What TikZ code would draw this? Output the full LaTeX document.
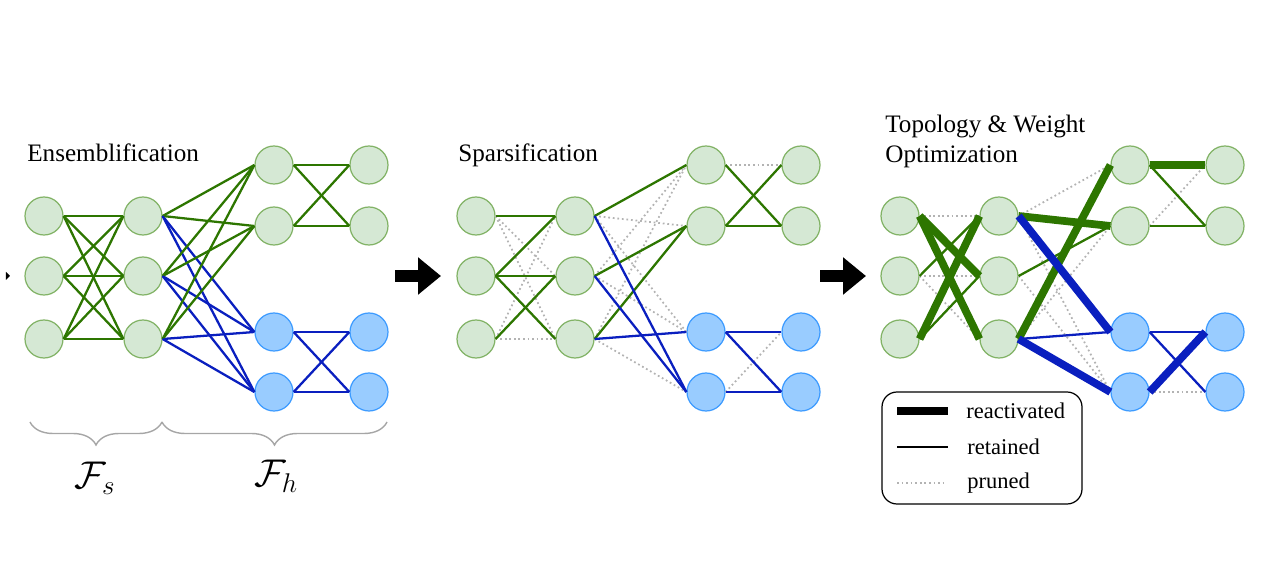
\RequirePackage{fix-cm}
\documentclass[tikz,border=0pt]{standalone}
\usepackage{fontspec}
\setmainfont{Liberation Serif}
\usetikzlibrary{arrows.meta,positioning,calc,decorations.pathreplacing}
\definecolor{nngreen}{HTML}{2D7600}
\definecolor{nnblue}{HTML}{0A1FBF}
\definecolor{nngfill}{HTML}{D5E8D4}
\definecolor{nngline}{HTML}{82B366}
\definecolor{nnbfill}{HTML}{99CCFF}
\definecolor{nnbline}{HTML}{3D9BFF}
\definecolor{nnprune}{HTML}{B3B3B3}

\begin{document}
\begin{tikzpicture}[
  gunit/.style={circle, draw=nngline, fill=nngfill, line width=0.7pt,
                minimum size=0.76cm, inner sep=0pt},
  bunit/.style={circle, draw=nnbline, fill=nnbfill, line width=0.7pt,
                minimum size=0.76cm, inner sep=0pt},
  gedge/.style={nngreen, line width=1.3pt},
  bedge/.style={nnblue, line width=1.3pt},
  gthick/.style={nngreen, line width=4.4pt},
  bthick/.style={nnblue, line width=4.4pt},
  pruned/.style={nnprune, line width=1pt, dash pattern=on 1pt off 1.6pt},
  ttl/.style={font=\fontsize{14.3}{17}\selectfont, inner sep=0pt, anchor=base west},
  lgd/.style={font=\fontsize{12.8}{15}\selectfont, inner sep=0pt},
  grplbl/.style={font=\fontsize{22}{24}\selectfont},
  stage/.style={line width=0.24cm, -{Triangle[length=0.46cm, width=0.72cm]}},
  grp/.style={decorate, decoration={brace, mirror, amplitude=0.46cm},
              draw=black!35, line width=0.8pt},
]
\useasboundingbox (0,0) rectangle (25.4,11.4);

%% ---- units of the three networks ----
% a: input, b: shared layer, c/d: green/blue heads, e/f: their outputs
\foreach \p/\dx in {p1/0, p2/8.64, p3/17.12} {
  \node[gunit] (\p a1) at (0.88+\dx, 7.08) {};
  \node[gunit] (\p a2) at (0.88+\dx, 5.88) {};
  \node[gunit] (\p a3) at (0.88+\dx, 4.62) {};
  \node[gunit] (\p b1) at (2.86+\dx, 7.08) {};
  \node[gunit] (\p b2) at (2.86+\dx, 5.88) {};
  \node[gunit] (\p b3) at (2.86+\dx, 4.62) {};
  \node[gunit] (\p c1) at (5.48+\dx, 8.10) {};
  \node[gunit] (\p c2) at (5.48+\dx, 6.88) {};
  \node[bunit] (\p d1) at (5.48+\dx, 4.76) {};
  \node[bunit] (\p d2) at (5.48+\dx, 3.56) {};
  \node[gunit] (\p e1) at (7.38+\dx, 8.10) {};
  \node[gunit] (\p e2) at (7.38+\dx, 6.88) {};
  \node[bunit] (\p f1) at (7.38+\dx, 4.76) {};
  \node[bunit] (\p f2) at (7.38+\dx, 3.56) {};
}

%% ---- titles ----
\node[ttl] (t1) at (0.54, 8.16) {Ensemblification};
\node[ttl] (t2) at (9.16, 8.16) {Sparsification};
\node[ttl] (t3) at (17.70, 8.74) {Topology \& Weight};
\node[ttl] (t4) at (17.70, 8.14) {Optimization};

%% ---- panel 1: dense ensemble ----
\foreach \i in {1,2,3} {
  \foreach \j in {1,2,3}
    \draw[gedge] (p1a\i.east) -- (p1b\j.west);
  \foreach \j in {1,2} {
    \draw[gedge] (p1b\i.east) -- (p1c\j.west);
    \draw[bedge] (p1b\i.east) -- (p1d\j.west);
  }
}
\foreach \i in {1,2}
  \foreach \j in {1,2} {
    \draw[gedge] (p1c\i.east) -- (p1e\j.west);
    \draw[bedge] (p1d\i.east) -- (p1f\j.west);
  }

%% ---- panel 2: sparsified ----
\foreach \s/\t in {a1/b2, a1/b3, a3/b1, a3/b3, b1/c2, b1/d1, b2/c1, b2/d1,
                   b3/c1, b3/d2, c1/e1, d2/f1}
  \draw[pruned] (p2\s.east) -- (p2\t.west);
\foreach \s/\t in {a1/b1, a2/b1, a2/b2, a2/b3, a3/b2, b1/c1, b2/c2, b3/c2,
                   c1/e2, c2/e1, c2/e2}
  \draw[gedge] (p2\s.east) -- (p2\t.west);
\foreach \s/\t in {b1/d2, b2/d2, b3/d1, d1/f1, d1/f2, d2/f2}
  \draw[bedge] (p2\s.east) -- (p2\t.west);

%% ---- panel 3: regrown topology ----
\foreach \s/\t in {a1/b1, a2/b2, a2/b3, b1/c1, b1/d2, b2/d2, b3/c2, c2/e1, d2/f2}
  \draw[pruned] (p3\s.east) -- (p3\t.west);
\foreach \s/\t in {a2/b1, a3/b2, b2/c2, c1/e2, c2/e2}
  \draw[gedge] (p3\s.east) -- (p3\t.west);
\foreach \s/\t in {b3/d1, d1/f1, d1/f2}
  \draw[bedge] (p3\s.east) -- (p3\t.west);
\foreach \s/\t in {a1/b2, a1/b3, a3/b1, b1/c2, b3/c1, c1/e1}
  \draw[gthick] (p3\s.east) -- (p3\t.west);
\foreach \s/\t in {b1/d1, b3/d2, d2/f1}
  \draw[bthick] (p3\s.east) -- (p3\t.west);

%% ---- stage arrows ----
\coordinate (s1a) at (7.90, 5.88);
\coordinate (s1b) at (8.82, 5.88);
\coordinate (s2a) at (16.40, 5.88);
\coordinate (s2b) at (17.32, 5.88);
\draw[stage] (s1a) -- (s1b);
\draw[stage] (s2a) -- (s2b);
% clipped tip at the left edge
\fill (0.12,5.96) -- (0.20,5.88) -- (0.12,5.80) -- cycle;

%% ---- braces ----
\coordinate (bs0) at (0.60, 2.96);
\coordinate (bs1) at (3.24, 2.96);
\coordinate (bh1) at (7.74, 2.96);
\draw[grp] (bs0) -- (bs1);
\draw[grp] (bs1) -- (bh1);
\node[grplbl] (fs) at (1.90, 1.84) {$\mathcal{F}_s$};
\node[grplbl] (fh) at (5.52, 1.88) {$\mathcal{F}_h$};

%% ---- legend ----
\draw[rounded corners=0.3cm, line width=0.7pt] (17.64,3.56) rectangle (21.64,1.32);
\coordinate (lr0) at (17.94, 3.18);
\coordinate (lr1) at (18.96, 3.18);
\coordinate (lt0) at (17.94, 2.46);
\coordinate (lt1) at (18.96, 2.46);
\coordinate (lp0) at (17.94, 1.74);
\coordinate (lp1) at (18.90, 1.74);
\draw[line width=4.4pt] (lr0) -- (lr1);
\draw[line width=1.3pt] (lt0) -- (lt1);
\draw[pruned] (lp0) -- (lp1);
\node[lgd, right=0.36cm of lr1] (lre) {reactivated};
\node[lgd, right=0.38cm of lt1] (lrt) {retained};
\node[lgd, right=0.44cm of lp1] (lpr) {pruned};

\end{tikzpicture}
\end{document}
